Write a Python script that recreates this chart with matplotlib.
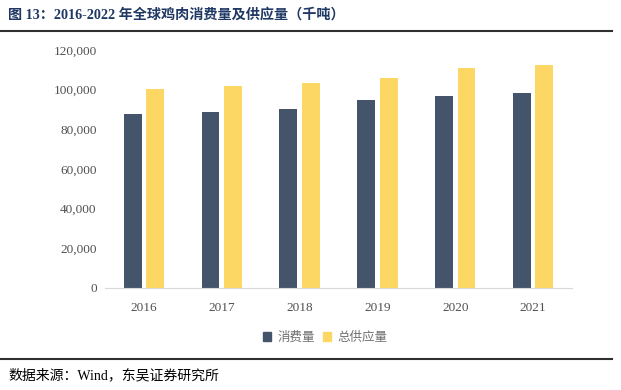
import matplotlib

matplotlib.use("Agg")
import matplotlib.pyplot as plt
import numpy as np
from matplotlib.lines import Line2D
from matplotlib.patches import Patch

YEARS = ["2016", "2017", "2018", "2019", "2020", "2021"]
CONSUMPTION = [87700, 88900, 90300, 95000, 97000, 98500]
SUPPLY = [100500, 101900, 103500, 105700, 110700, 112300]
SERIES_LABELS = ["消费量", "总供应量"]
TITLE = "图 13：2016-2022 年全球鸡肉消费量及供应量（千吨）"
SOURCE = "数据来源：Wind，东吴证券研究所"

DARK = "#44546A"
YELLOW = "#FDD764"
CJK = ["Liberation Serif", "Noto Sans CJK SC", "DejaVu Sans"]

fig = plt.figure(figsize=(6.21, 3.9), dpi=100)
ax = fig.add_axes([105 / 621, 1 - 288 / 390, 467 / 621, 238 / 390])

x = np.arange(len(YEARS))
w = 0.23
ax.bar(x - 0.145, CONSUMPTION, width=w, color=DARK)
ax.bar(x + 0.145, SUPPLY, width=w, color=YELLOW)

ax.set_xlim(-0.5, len(YEARS) - 0.5)
ax.set_ylim(0, 120000)
ax.set_yticks(range(0, 120001, 20000))
ax.set_yticklabels([f"{v:,}" for v in range(0, 120001, 20000)])
ax.set_xticks(x)
ax.set_xticklabels(YEARS)
for lab in ax.get_xticklabels() + ax.get_yticklabels():
    lab.set_fontfamily("Liberation Serif")
    lab.set_fontsize(9.5)
    lab.set_color("#505050")
ax.tick_params(length=0, pad=10)
ax.tick_params(axis="y", pad=6)
for side in ("top", "right", "left"):
    ax.spines[side].set_visible(False)
ax.spines["bottom"].set_color("#D9D9D9")

handles = [Patch(color=DARK), Patch(color=YELLOW)]
fig.legend(handles, SERIES_LABELS, loc="center", bbox_to_anchor=(325 / 621, 1 - 337 / 390),
           ncol=2, frameon=False, handlelength=0.7, handleheight=0.7, handletextpad=0.5,
           columnspacing=0.6, prop={"family": ["Noto Sans CJK SC"], "size": 9},
           labelcolor="#707070")

fig.text(8 / 621, 1 - 15 / 390, TITLE, fontsize=10.2, fontweight="bold", color="#1F3864",
         va="center", ha="left", family=CJK)
fig.text(8 / 621, 1 - 375 / 390, SOURCE, fontsize=10, color="black",
         va="center", ha="left", family=CJK)

fig.add_artist(Line2D([0.0, 0.985], [1 - 31 / 390] * 2, color="#303030", lw=1.5))
fig.add_artist(Line2D([0.0, 0.985], [1 - 359 / 390] * 2, color="#303030", lw=1.5))

fig.savefig("out.png")
